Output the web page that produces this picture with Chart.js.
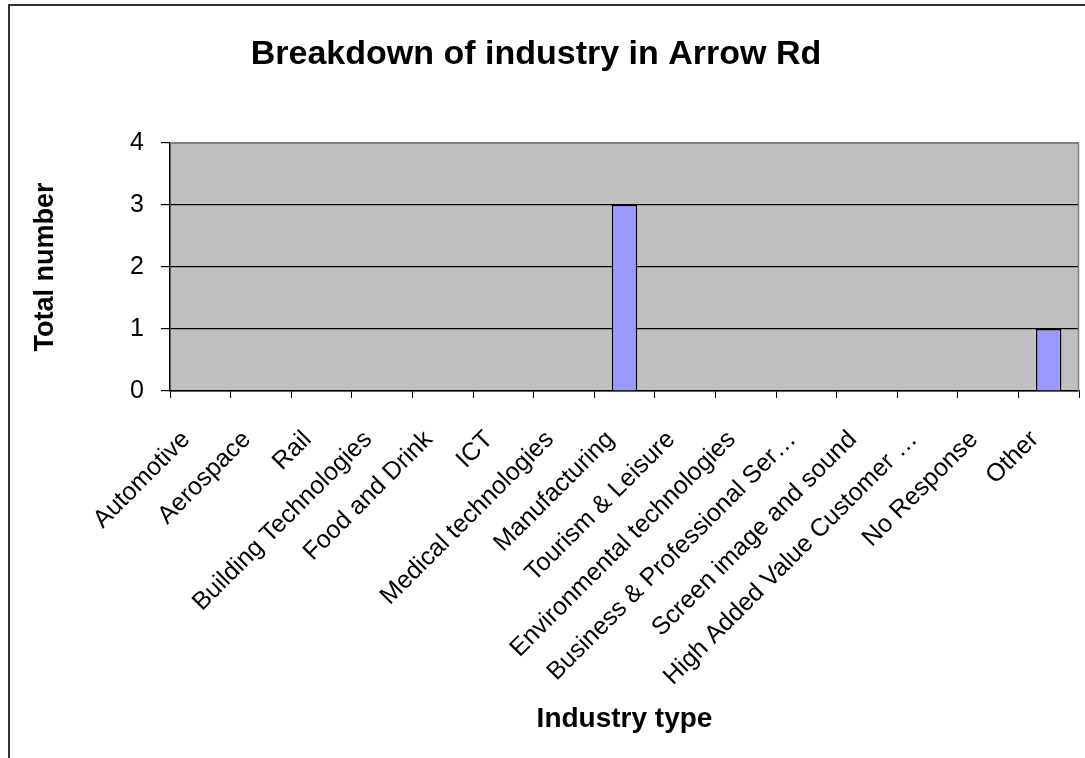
<!DOCTYPE html>
<html>
<head>
<meta charset="utf-8">
<script src="https://cdn.jsdelivr.net/npm/chart.js@4"></script>
<style>
  html, body { margin: 0; padding: 0; background: #ffffff; }
  #wrap { width: 1085px; height: 758px; position: relative; }
</style>
</head>
<body>
<div id="wrap"><canvas id="c" width="1085" height="758"></canvas></div>
<script>
const categories = [
  "Automotive", "Aerospace", "Rail", "Building Technologies", "Food and Drink",
  "ICT", "Medical technologies", "Manufacturing", "Tourism & Leisure",
  "Environmental technologies", "Business & Professional Ser…",
  "Screen image and sound", "High Added Value Customer …", "No Response", "Other"
];
const totals = [0, 0, 0, 0, 0, 0, 0, 3, 0, 0, 0, 0, 0, 0, 1];
const yTicks = [0, 1, 2, 3, 4];

const chartTitle = "Breakdown of industry in Arrow Rd";
const xTitle = "Industry type";
const yTitle = "Total number";

const FONT = "Liberation Sans, Arial, sans-serif";

const framePlugin = {
  id: 'frame',
  afterLayout(chart) {
    // shift the title centre slightly left, as in the reference
    if (chart.titleBlock) chart.titleBlock.right -= 17;
  },
  beforeDraw(chart) {
    const { ctx, chartArea: a } = chart;
    ctx.save();
    ctx.fillStyle = '#ffffff';
    ctx.fillRect(0, 0, chart.width, chart.height);
    ctx.strokeStyle = '#333333';
    ctx.lineWidth = 2;
    ctx.beginPath();
    ctx.moveTo(9, chart.height);
    ctx.lineTo(9, 5);
    ctx.lineTo(chart.width, 5);
    ctx.stroke();
    ctx.fillStyle = '#C0C0C0';
    ctx.fillRect(a.left, a.top, a.right - a.left, a.bottom - a.top);
    ctx.restore();
  },
  afterDatasetsDraw(chart) {
    const { ctx, chartArea: a } = chart;
    ctx.save();
    ctx.strokeStyle = '#808080';
    ctx.lineWidth = 1.5;
    ctx.beginPath();
    ctx.moveTo(a.left, a.top + 0.5);
    ctx.lineTo(a.right - 0.5, a.top + 0.5);
    ctx.lineTo(a.right - 0.5, a.bottom);
    ctx.stroke();
    ctx.restore();
  }
};

new Chart(document.getElementById('c'), {
  type: 'bar',
  data: {
    labels: categories,
    datasets: [{
      data: totals,
      backgroundColor: '#9999FF',
      borderColor: '#000000',
      borderWidth: 1.5,
      categoryPercentage: 1.0,
      barPercentage: 0.42
    }]
  },
  options: {
    responsive: false,
    animation: false,
    devicePixelRatio: 1,
    layout: { padding: { left: 10, right: 6, top: 0, bottom: 0 } },
    plugins: {
      legend: { display: false },
      tooltip: { enabled: false },
      title: {
        display: true,
        text: chartTitle,
        color: '#000000',
        font: { family: FONT, size: 34, weight: 'bold', lineHeight: 1.2 },
        padding: { top: 34, bottom: 68 }
      }
    },
    scales: {
      x: {
        offset: true,
        grid: {
          display: true,
          offset: true,
          drawOnChartArea: false,
          drawTicks: true,
          tickLength: 7,
          tickColor: '#000000',
          tickWidth: 1
        },
        border: { display: true, color: '#000000', width: 1.5 },
        ticks: {
          color: '#000000',
          font: { family: FONT, size: 25 },
          maxRotation: 45,
          minRotation: 45,
          autoSkip: false,
          padding: 27,
          labelOffset: -14
        },
        title: {
          display: true,
          text: xTitle,
          color: '#000000',
          font: { family: FONT, size: 28, weight: 'bold', lineHeight: 1.2 },
          padding: { top: 0, bottom: 22 }
        },
        afterFit(scale) {
          scale.height = 758 - 391;
          scale.paddingLeft = 0;
          scale.paddingRight = 0;
        }
      },
      y: {
        min: 0,
        max: 4,
        afterBuildTicks(scale) { scale.ticks = yTicks.map(v => ({ value: v })); },
        grid: {
          color: (ctx) => (ctx.tick && ctx.tick.value === 4) ? '#808080' : '#000000',
          lineWidth: 1.2,
          drawTicks: true,
          tickLength: 9,
          tickColor: '#000000'
        },
        border: { display: true, color: '#000000', width: 1.5 },
        ticks: {
          color: '#000000',
          font: { family: FONT, size: 25 },
          padding: 17
        },
        title: {
          display: true,
          text: yTitle,
          color: '#000000',
          font: { family: FONT, size: 27, weight: 'bold', lineHeight: 1.2 },
          padding: { top: 19, bottom: 0 }
        },
        afterFit(scale) { scale.width = 170 - 10; }
      }
    }
  },
  plugins: [framePlugin]
});
</script>
</body>
</html>
